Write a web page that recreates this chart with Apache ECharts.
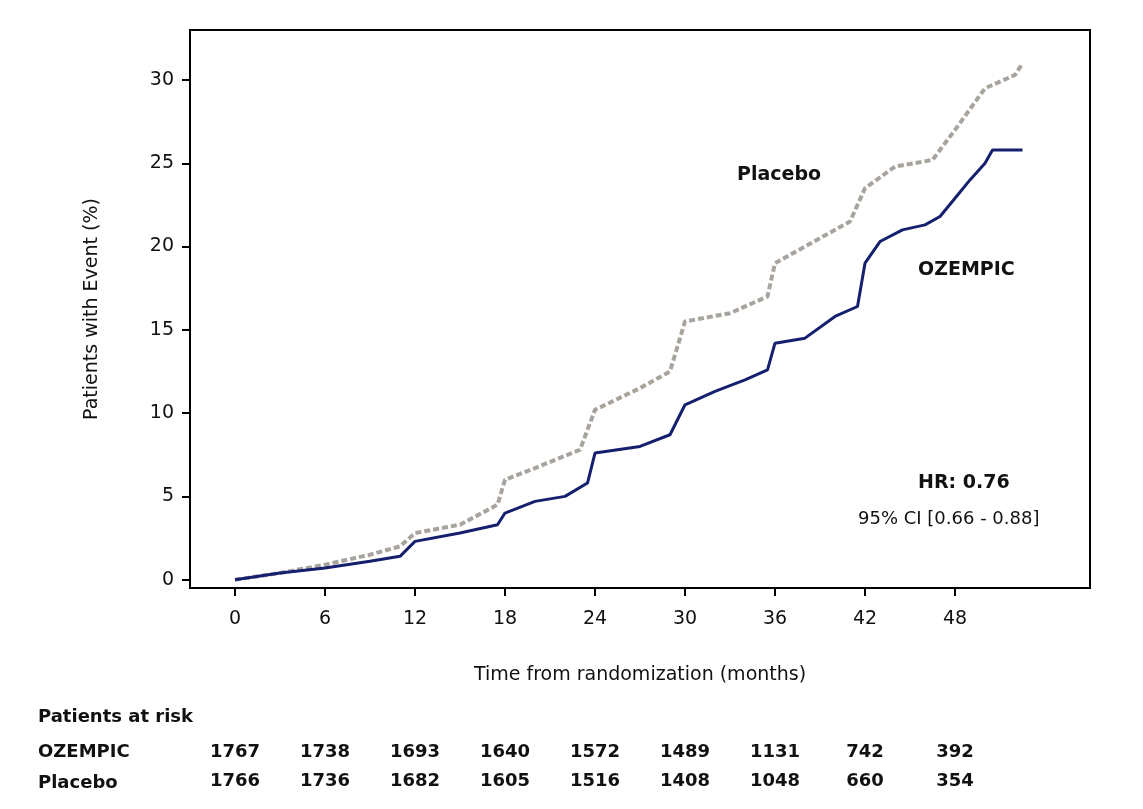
<!DOCTYPE html><html><head><meta charset="utf-8"><script src="https://cdn.jsdelivr.net/npm/echarts@6/dist/echarts.min.js"></script>
<style>body{margin:0}#c{width:1143px;height:809px}</style></head><body><div id="c"></div><script>
const months=[0,6,12,18,24,30,36,42,48];
const yTicks=[0,5,10,15,20,25,30];
const placebo=[[0,0],[3,0.4],[6,0.9],[9,1.5],[11,2.0],[12,2.8],[15,3.3],[17.5,4.5],[18,6.0],[20,6.7],[23,7.8],[24,10.2],[27,11.5],[29,12.5],[30,15.5],[33,16],[35.5,17],[36,19],[39,20.5],[41,21.5],[42,23.5],[44,24.8],[46.5,25.2],[48,27],[50,29.5],[52,30.3],[52.5,31]];
const ozempic=[[0,0],[3,0.4],[6,0.7],[9,1.1],[11,1.4],[12,2.3],[15,2.8],[17.5,3.3],[18,4.0],[20,4.7],[22,5.0],[23.5,5.8],[24,7.6],[27,8.0],[29,8.7],[30,10.5],[32,11.3],[34,12.0],[35.5,12.6],[36,14.2],[38,14.5],[40,15.8],[41.5,16.4],[42,19],[43,20.3],[44.5,21],[46,21.3],[47,21.8],[48,22.9],[49,24],[50,25],[50.5,25.8],[52.5,25.8]];
const riskOzempic=[1767,1738,1693,1640,1572,1489,1131,742,392];
const riskPlacebo=[1766,1736,1682,1605,1516,1408,1048,660,354];
const F='"DejaVu Sans",Verdana,sans-serif';
const chart=echarts.init(document.getElementById('c'));
chart.setOption({
 animation:false,
 grid:{left:190,top:30,right:53,bottom:221,show:true,borderColor:'#000',borderWidth:2},
 xAxis:{type:'value',min:-3,max:57,name:'Time from randomization (months)',nameLocation:'middle',nameGap:78,
  nameTextStyle:{fontSize:19,color:'#111',fontFamily:F},
  axisLine:{show:false,onZero:false},splitLine:{show:false},
  axisTick:{show:true,length:8,lineStyle:{color:'#000',width:2},customValues:months},
  axisLabel:{fontSize:19,color:'#111',fontFamily:F,margin:22,customValues:months}},
 yAxis:{type:'value',min:-0.5,max:33,name:'Patients with Event (%)',nameLocation:'middle',nameGap:88,
  nameTextStyle:{fontSize:19,color:'#111',fontFamily:F},
  axisLine:{show:false,onZero:false},splitLine:{show:false},
  axisTick:{show:true,length:8,lineStyle:{color:'#000',width:2},customValues:yTicks},
  axisLabel:{fontSize:19,color:'#111',fontFamily:F,margin:16,customValues:yTicks}},
 series:[
  {type:'line',data:placebo,showSymbol:false,lineStyle:{color:'#a8a39d',width:4,type:[6,3]}},
  {type:'line',data:ozempic,showSymbol:false,lineStyle:{color:'#14206e',width:3}}
 ]
});
const g=[];
const tx=(x,y,t,o)=>g.push({type:'text',x,y,style:Object.assign({text:t,fontSize:19,fontFamily:F,fill:'#111'},o||{})});
tx(737,166,'Placebo',{fontWeight:'bold'});
tx(918,261,'OZEMPIC',{fontWeight:'bold'});
tx(918,474,'HR: 0.76',{fontWeight:'bold'});
tx(858,510,'95% CI [0.66 - 0.88]',{fontSize:18});
tx(38,708,'Patients at risk',{fontWeight:'bold',fontSize:18});
tx(38,743,'OZEMPIC',{fontWeight:'bold',fontSize:18});
tx(38,774,'Placebo',{fontWeight:'bold',fontSize:18});
months.forEach((m,i)=>{
 const px=chart.convertToPixel({xAxisIndex:0},m);
 tx(px,743,String(riskOzempic[i]),{fontWeight:'bold',fontSize:18,align:'center'});
 tx(px,772,String(riskPlacebo[i]),{fontWeight:'bold',fontSize:18,align:'center'});
});
chart.setOption({graphic:g});
</script></body></html>
